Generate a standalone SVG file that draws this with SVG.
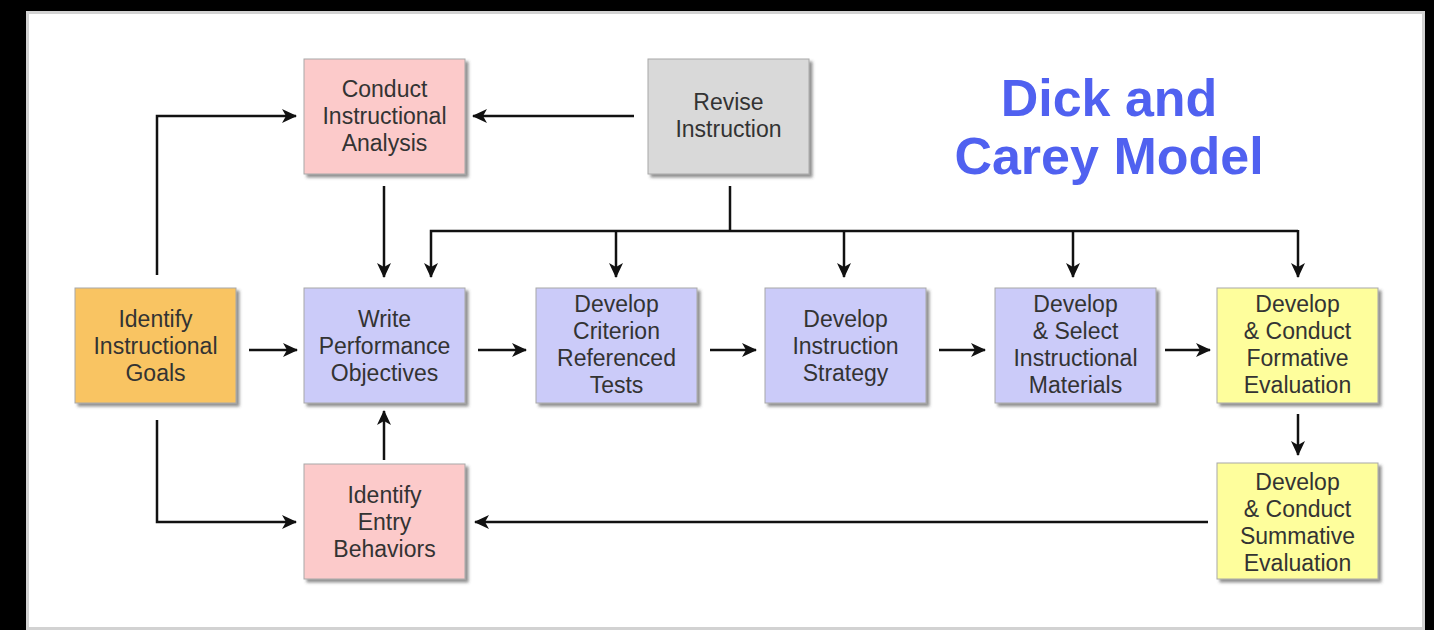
<svg xmlns="http://www.w3.org/2000/svg" width="1434" height="630" viewBox="0 0 1434 630">
<defs>
<style>
.box{stroke:#a8a8a8;stroke-width:1;filter:url(#sh)}
.pink{fill:#FCCACA}
.grey{fill:#D9D9D9}
.orange{fill:#F9C462}
.blue{fill:#CBCBF9}
.yellow{fill:#FEFE9C}
.lbl{font-family:"Liberation Sans",Arial,sans-serif;font-size:23px;fill:#333;text-anchor:middle}
.title{font-family:"Liberation Sans",Arial,sans-serif;font-size:52px;font-weight:bold;fill:#5061F0;text-anchor:middle}
.c{fill:none;stroke:#111;stroke-width:2.5}
.a{marker-end:url(#ah)}
</style>
<filter id="sh" x="-10%" y="-10%" width="130%" height="130%">
<feDropShadow dx="3" dy="3" stdDeviation="1.5" flood-color="#444" flood-opacity="0.6"/>
</filter>
<marker id="ah" markerUnits="userSpaceOnUse" markerWidth="16" markerHeight="14" refX="14" refY="7" orient="auto">
<path d="M0,0 L15,7 L0,14 L4,7 z" fill="#111"/>
</marker>
</defs>
<rect x="0" y="0" width="1434" height="630" fill="#000"/>
<rect x="27.5" y="12.5" width="1396" height="616" fill="#fff" stroke="#d2d2d2" stroke-width="3"/>

<text class="title" x="1109" y="116">Dick and</text>
<text class="title" x="1109" y="174">Carey Model</text>

<g id="connectors">
<polyline class="c a" points="157,275 157,116 296,116"/>
<line class="c a" x1="634" y1="116" x2="473" y2="116"/>
<line class="c a" x1="384" y1="186" x2="384" y2="277"/>
<line class="c" x1="730" y1="186" x2="730" y2="231"/>
<polyline class="c a" points="1298,231 431,231 431,277"/>
<line class="c a" x1="616" y1="231" x2="616" y2="277"/>
<line class="c a" x1="844" y1="231" x2="844" y2="277"/>
<line class="c a" x1="1073" y1="231" x2="1073" y2="277"/>
<line class="c a" x1="1298" y1="230" x2="1298" y2="277"/>
<line class="c a" x1="249" y1="350" x2="297" y2="350"/>
<line class="c a" x1="478" y1="350" x2="526" y2="350"/>
<line class="c a" x1="710" y1="350" x2="756" y2="350"/>
<line class="c a" x1="939" y1="350" x2="985" y2="350"/>
<line class="c a" x1="1165" y1="350" x2="1210" y2="350"/>
<line class="c a" x1="1298" y1="414" x2="1298" y2="455"/>
<line class="c a" x1="1208" y1="522" x2="475" y2="522"/>
<line class="c a" x1="384" y1="460" x2="384" y2="411"/>
<polyline class="c a" points="157,420 157,522 296,522"/>
</g>

<g id="conduct-analysis">
<rect class="box pink" x="304" y="59" width="161" height="115"/>
<text class="lbl" x="384.5" y="97">Conduct</text>
<text class="lbl" x="384.5" y="124">Instructional</text>
<text class="lbl" x="384.5" y="151">Analysis</text>
</g>
<g id="revise-instruction">
<rect class="box grey" x="648" y="59" width="161" height="115"/>
<text class="lbl" x="728.5" y="110">Revise</text>
<text class="lbl" x="728.5" y="137">Instruction</text>
</g>
<g id="identify-goals">
<rect class="box orange" x="75" y="288" width="161" height="115"/>
<text class="lbl" x="155.5" y="327">Identify</text>
<text class="lbl" x="155.5" y="354">Instructional</text>
<text class="lbl" x="155.5" y="381">Goals</text>
</g>
<g id="write-objectives">
<rect class="box blue" x="304" y="288" width="161" height="115"/>
<text class="lbl" x="384.5" y="327">Write</text>
<text class="lbl" x="384.5" y="354">Performance</text>
<text class="lbl" x="384.5" y="381">Objectives</text>
</g>
<g id="criterion-tests">
<rect class="box blue" x="536" y="288" width="161" height="115"/>
<text class="lbl" x="616.5" y="312">Develop</text>
<text class="lbl" x="616.5" y="339">Criterion</text>
<text class="lbl" x="616.5" y="366">Referenced</text>
<text class="lbl" x="616.5" y="393">Tests</text>
</g>
<g id="instruction-strategy">
<rect class="box blue" x="765" y="288" width="161" height="115"/>
<text class="lbl" x="845.5" y="327">Develop</text>
<text class="lbl" x="845.5" y="354">Instruction</text>
<text class="lbl" x="845.5" y="381">Strategy</text>
</g>
<g id="instructional-materials">
<rect class="box blue" x="995" y="288" width="161" height="115"/>
<text class="lbl" x="1075.5" y="312">Develop</text>
<text class="lbl" x="1075.5" y="339">&amp; Select</text>
<text class="lbl" x="1075.5" y="366">Instructional</text>
<text class="lbl" x="1075.5" y="393">Materials</text>
</g>
<g id="formative-evaluation">
<rect class="box yellow" x="1217" y="288" width="161" height="115"/>
<text class="lbl" x="1297.5" y="312">Develop</text>
<text class="lbl" x="1297.5" y="339">&amp; Conduct</text>
<text class="lbl" x="1297.5" y="366">Formative</text>
<text class="lbl" x="1297.5" y="393">Evaluation</text>
</g>
<g id="summative-evaluation">
<rect class="box yellow" x="1217" y="463" width="161" height="116"/>
<text class="lbl" x="1297.5" y="490">Develop</text>
<text class="lbl" x="1297.5" y="517">&amp; Conduct</text>
<text class="lbl" x="1297.5" y="544">Summative</text>
<text class="lbl" x="1297.5" y="571">Evaluation</text>
</g>
<g id="entry-behaviors">
<rect class="box pink" x="304" y="464" width="161" height="115"/>
<text class="lbl" x="384.5" y="503">Identify</text>
<text class="lbl" x="384.5" y="530">Entry</text>
<text class="lbl" x="384.5" y="557">Behaviors</text>
</g>
</svg>
